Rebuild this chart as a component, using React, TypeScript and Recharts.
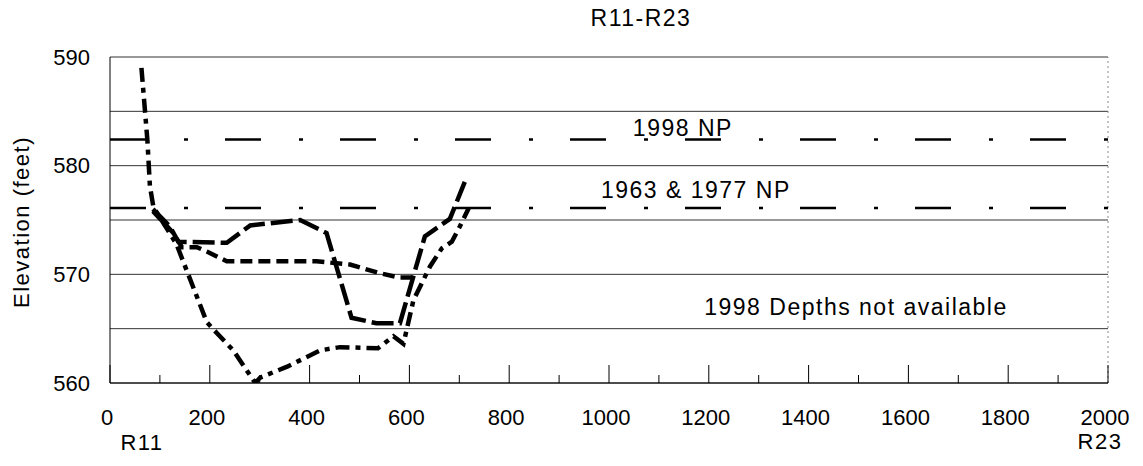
import React from "react";
import { LineChart, Line, XAxis, YAxis, CartesianGrid, ReferenceLine, ReferenceDot } from "recharts";

// distance along the reach (ft) vs bed elevation (ft)
const longDashX = [86, 120, 137, 234, 281, 381, 434, 484, 534, 581, 631, 681, 711];
const longDashY = [576.0, 574.4, 573.0, 572.9, 574.5, 575.0, 573.8, 566.0, 565.5, 565.5, 573.5, 575.1, 578.5];

const shortDashX = [86, 127, 144, 174, 194, 234, 414, 481, 541, 581, 608];
const shortDashY = [575.8, 573.8, 572.5, 572.5, 572.1, 571.2, 571.2, 570.9, 570.1, 569.7, 569.7];

const dashDotX = [63, 70, 75, 80, 87, 133, 194, 214, 247, 291, 301, 355, 421, 461, 537, 568, 588, 608, 641, 665, 685, 701, 719];
const dashDotY = [589.0, 585.1, 582.3, 578.1, 576.2, 572.8, 565.6, 564.6, 563.0, 560.0, 560.5, 561.5, 563.0, 563.3, 563.2, 564.3, 563.6, 567.6, 570.7, 572.4, 573.0, 574.4, 576.1];

const np1998 = 582.4;
const np1963and1977 = 576.1;

const xTicks = [0, 100, 200, 300, 400, 500, 600, 700, 800, 900, 1000, 1100, 1200, 1300, 1400, 1500, 1600, 1700, 1800, 1900, 2000];
const yTicks = [560, 565, 570, 575, 580, 585, 590];

const toPoints = (xs: number[], ys: number[]) => xs.map((x, i) => ({ x, y: ys[i] }));

const FONT = "'Liberation Sans', Arial, sans-serif";

const XTick = (props: any) => {
  const { x, y, payload } = props;
  const v = payload.value;
  const major = v % 200 === 0;
  return (
    <g>
      <line x1={x} x2={x} y1={y} y2={y - (major ? 18 : 8)} stroke="#000" strokeWidth={1} />
      {major && (
        <text x={x - 3} y={y + 42} textAnchor="middle" fontSize={22} fontFamily={FONT} fill="#000">
          {v}
        </text>
      )}
    </g>
  );
};

const anno = (text: string) => (p: any) => {
  const vb = p.viewBox || {};
  const cx = (vb.x || 0) + (vb.width || 0) / 2;
  const cy = (vb.y || 0) + (vb.height || 0) / 2;
  return (
    <text x={cx} y={cy} textAnchor="middle" dominantBaseline="central" fontSize={23} fontFamily={FONT} letterSpacing={1.5} fill="#000">
      {text}
    </text>
  );
};

const outerText: React.CSSProperties = {
  position: "absolute",
  fontFamily: FONT,
  fontSize: 23,
  letterSpacing: 1.5,
  lineHeight: 1,
  color: "#000",
  whiteSpace: "nowrap",
  transform: "translate(-50%, -50%)",
};

export default function App() {
  return (
    <div style={{ position: "relative", width: 1135, height: 458, background: "#fff" }}>
      <LineChart width={1135} height={458} margin={{ top: 49, right: 35, left: 42, bottom: 43 }}>
        <CartesianGrid vertical={false} stroke="#333" strokeWidth={1} />
        <XAxis
          type="number"
          dataKey="x"
          domain={[0, 2000]}
          ticks={xTicks}
          interval={0}
          height={40}
          tickSize={0}
          tickMargin={0}
          tickLine={false}
          axisLine={{ stroke: "#000" }}
          tick={<XTick />}
          allowDataOverflow
        />
        <YAxis
          type="number"
          domain={[560, 590]}
          ticks={yTicks}
          interval={0}
          width={60}
          tickSize={0}
          tickMargin={20}
          tickLine={false}
          axisLine={{ stroke: "#000" }}
          tickFormatter={(v: number) => (v % 10 === 0 ? String(v) : "")}
          tick={{ fontSize: 22, fontFamily: FONT, fill: "#000" }}
          allowDataOverflow
        />
        <ReferenceLine x={2000} stroke="#888" strokeDasharray="2 3" />
        <ReferenceLine y={np1998} stroke="#000" strokeWidth={2.5} strokeDasharray="36 38 4 37" />
        <ReferenceLine y={np1963and1977} stroke="#000" strokeWidth={2.5} strokeDasharray="36 38 4 37" />
        <Line
          data={toPoints(dashDotX, dashDotY)}
          dataKey="y"
          type="linear"
          stroke="#000"
          strokeWidth={4.5}
          strokeDasharray="14 6 5 6"
          dot={false}
          isAnimationActive={false}
        />
        <Line
          data={toPoints(shortDashX, shortDashY)}
          dataKey="y"
          type="linear"
          stroke="#000"
          strokeWidth={4.5}
          strokeDasharray="12 6"
          dot={false}
          isAnimationActive={false}
        />
        <Line
          data={toPoints(longDashX, longDashY)}
          dataKey="y"
          type="linear"
          stroke="#000"
          strokeWidth={4.5}
          strokeDasharray="22 6"
          dot={false}
          isAnimationActive={false}
        />
        <ReferenceDot x={1148} y={583.5} r={1} fill="none" stroke="none" label={{ content: anno("1998 NP") }} />
        <ReferenceDot x={1174} y={577.75} r={1} fill="none" stroke="none" label={{ content: anno("1963 & 1977 NP") }} />
        <ReferenceDot x={1495} y={567.0} r={1} fill="none" stroke="none" label={{ content: anno("1998 Depths not available") }} />
      </LineChart>
      <div style={{ ...outerText, left: 633, top: 10 }}>R11-R23</div>
      <div style={{ ...outerText, left: 134, top: 435, fontSize: 22 }}>R11</div>
      <div style={{ ...outerText, left: 1092, top: 434, fontSize: 22 }}>R23</div>
      <div style={{ ...outerText, left: 14, top: 214, fontSize: 22, transform: "translate(-50%, -50%) rotate(-90deg)" }}>
        Elevation (feet)
      </div>
    </div>
  );
}
